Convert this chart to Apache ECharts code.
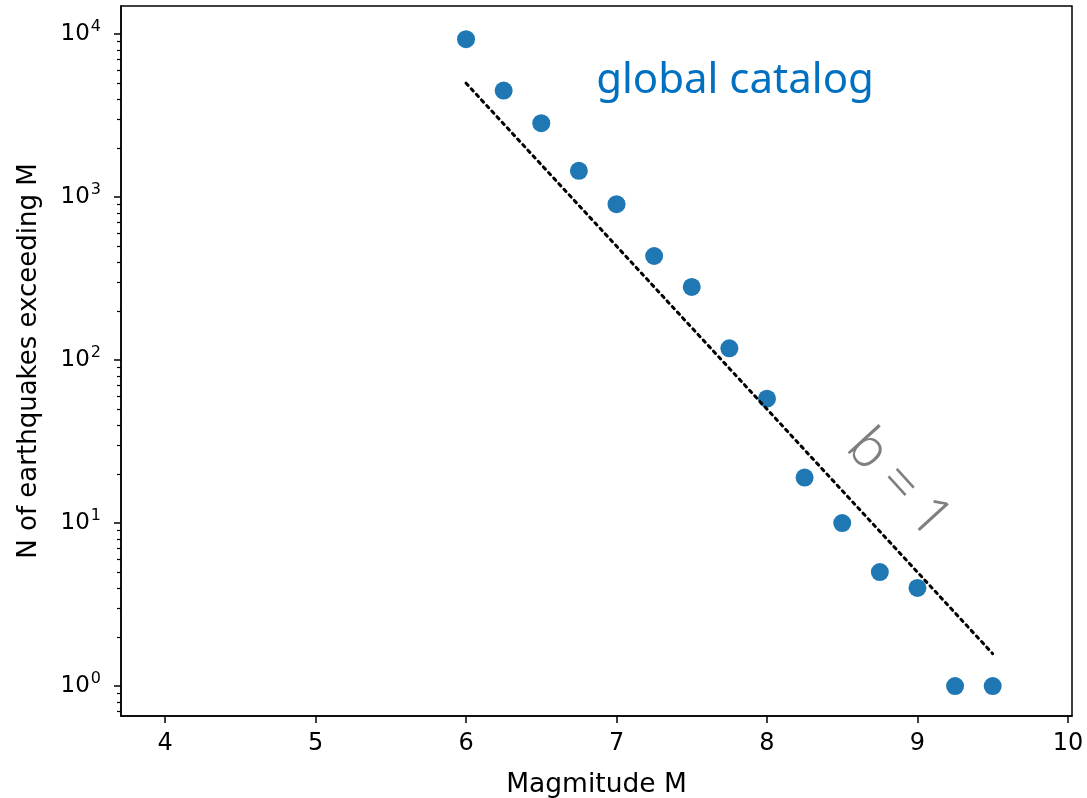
<!DOCTYPE html>
<html><head><meta charset="utf-8">
<script src="https://cdn.jsdelivr.net/npm/echarts@6/dist/echarts.min.js"></script>
<style>html,body{margin:0;padding:0;background:#fff}#c{width:1087px;height:798px}</style>
</head><body><div id="c"></div>
<script>
// Data
const magnitudes = [6.0, 6.25, 6.5, 6.75, 7.0, 7.25, 7.5, 7.75, 8.0, 8.25, 8.5, 8.75, 9.0, 9.25, 9.5];
const counts = [9300, 4500, 2840, 1450, 905, 435, 281, 118, 58, 19, 10, 5, 4, 1, 1];
const fitX = [6.0, 9.5];
const fitY = [5000, 1.58];
const xTicks = [4, 5, 6, 7, 8, 9, 10];
const yTicks = [1, 10, 100, 1000, 10000];
const yMinorTicks = [];
for (let e = -1; e <= 4; e++) for (let k = 2; k <= 9; k++) yMinorTicks.push(k * Math.pow(10, e));

const FONT = 'DejaVu Sans';
const chart = echarts.init(document.getElementById('c'));
const expLabel = v => {
  const e = Math.round(Math.log10(v));
  return '{b|10}{s|' + e + '}';
};
chart.setOption({
  animation: false,
  grid: {left: 121, right: 15, top: 6, bottom: 82, outerBoundsMode: 'none', containLabel: false,
    show: true, borderColor: '#000', borderWidth: 1.5, backgroundColor: 'transparent'},
  xAxis: {
    type: 'value', min: 3.707, max: 10.027,
    name: 'Magmitude M', nameLocation: 'middle', nameGap: 56,
    nameTextStyle: {fontFamily: FONT, fontSize: 26.5, color: '#000'},
    axisLine: {show: true, lineStyle: {color: '#000', width: 1.5}},
    axisTick: {show: true, length: 7, lineStyle: {color: '#000', width: 1.5}, customValues: xTicks},
    axisLabel: {fontFamily: FONT, fontSize: 24, color: '#000', margin: 16, customValues: xTicks},
    splitLine: {show: false}
  },
  yAxis: [{
    type: 'log', logBase: 10, min: 0.655, max: 14870,
    name: 'N of earthquakes exceeding M', nameLocation: 'middle', nameGap: 79, nameRotate: 90,
    nameTextStyle: {fontFamily: FONT, fontSize: 26, color: '#000'},
    axisLine: {show: true, lineStyle: {color: '#000', width: 1.5}},
    axisTick: {show: true, length: 7, lineStyle: {color: '#000', width: 1.5}, customValues: yTicks},
    axisLabel: {customValues: yTicks, margin: 20, formatter: expLabel,
      rich: {b: {fontFamily: FONT, fontSize: 23, color: '#000'}, s: {fontFamily: FONT, fontSize: 16, color: '#000', verticalAlign: 'top', padding: [0, 0, 14, 1]}}},
    splitLine: {show: false}
  }, {
    type: 'log', logBase: 10, min: 0.655, max: 14870, position: 'left',
    axisLine: {show: false},
    axisTick: {show: true, length: 4, lineStyle: {color: '#000', width: 1.2}, customValues: yMinorTicks},
    axisLabel: {show: false},
    splitLine: {show: false}
  }],
  series: [{
    type: 'scatter', yAxisIndex: 0,
    data: magnitudes.map((m, i) => [m, counts[i]]),
    symbol: 'circle', symbolSize: 18,
    itemStyle: {color: '#1f77b4', opacity: 1}
  }, {
    type: 'line', yAxisIndex: 0,
    data: fitX.map((m, i) => [m, fitY[i]]),
    symbol: 'none', z: 5,
    lineStyle: {color: '#000', width: 3, type: [3, 4.6], cap: 'round'}
  }],
  graphic: [{
    type: 'text', x: 735, y: 81, z: 10,
    style: {text: 'global catalog', fontFamily: 'Noto Sans', fontSize: 42, fill: '#0070C0', align: 'center', verticalAlign: 'middle'}
  }, {
    type: 'text', x: 898, y: 484, rotation: -0.83, z: 10,
    style: {text: 'b = 1', fontFamily: 'Noto Sans', fontSize: 55, fontWeight: 300, fill: '#7f7f7f', align: 'center', verticalAlign: 'middle'}
  }]
});
</script></body></html>
